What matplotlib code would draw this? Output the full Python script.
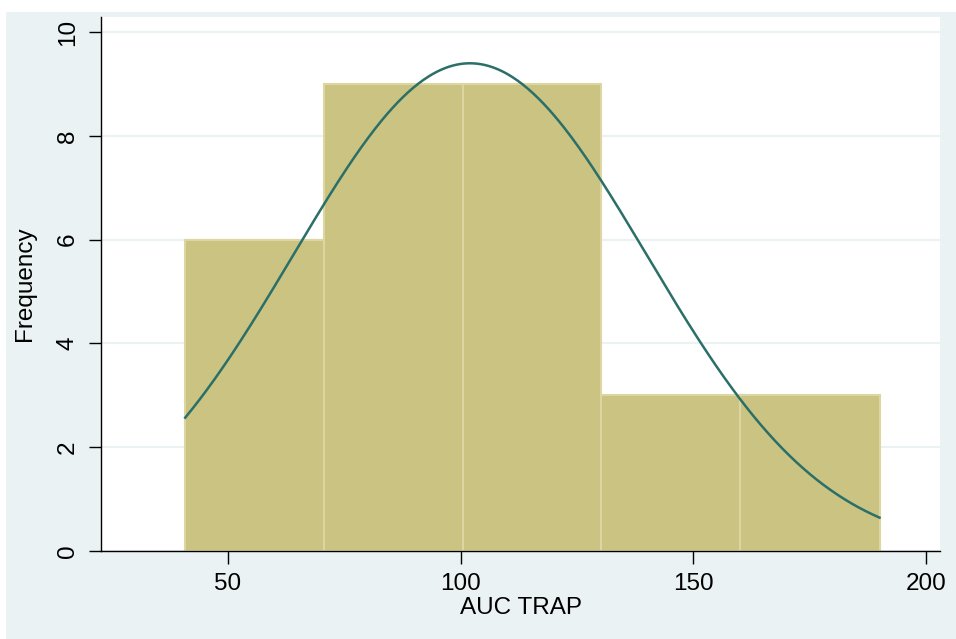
import numpy as np
import matplotlib
matplotlib.use("Agg")
import matplotlib.pyplot as plt
from matplotlib.patches import Rectangle

plt.rcParams['font.family'] = ['Liberation Sans', 'DejaVu Sans']

# histogram bins (AUC TRAP) and counts
bin_edges = [40.8, 70.6, 100.4, 130.2, 160.1, 190.0]
counts = [6, 9, 9, 3, 3]
# fitted normal curve parameters
mu = 102.0
sigma = 38.0

x_ticks = [50, 100, 150, 200]
y_ticks = [0, 2, 4, 6, 8, 10]

panel_bg = "#eaf2f3"
bar_color = "#cbc381"
bar_edge = "#ddd6a2"
curve_color = "#2b6f69"

fig = plt.figure(figsize=(9.56, 6.39), dpi=100, facecolor="white")
fig.add_artist(Rectangle((6 / 956, 0), 1, 1 - 12 / 639, transform=fig.transFigure,
                         facecolor=panel_bg, edgecolor="none", zorder=-10))

ax = fig.add_axes([101 / 956, 1 - 551 / 639, (940 - 101) / 956, (551 - 17) / 639])
ax.set_facecolor("white")

widths = np.diff(bin_edges)
ax.bar(bin_edges[:-1], counts, width=widths, align="edge", color=bar_color,
       edgecolor=bar_edge, linewidth=1.5, zorder=2)

n = sum(counts)
bw = float(np.mean(widths))
xs = np.linspace(bin_edges[0], bin_edges[-1], 400)
ys = n * bw * np.exp(-0.5 * ((xs - mu) / sigma) ** 2) / (sigma * np.sqrt(2 * np.pi))
ax.plot(xs, ys, color=curve_color, linewidth=1.8, zorder=3)

ax.set_xlim(22.7, 203.0)
ax.set_ylim(0, 10.29)
ax.set_xticks(x_ticks)
ax.set_yticks(y_ticks)
ax.set_yticklabels([str(v) for v in y_ticks], rotation=90, va="center")
ax.yaxis.grid(True, color=panel_bg, linewidth=1.5, zorder=0)
ax.set_axisbelow(True)

for s in ["top", "right"]:
    ax.spines[s].set_visible(False)
for s in ["left", "bottom"]:
    ax.spines[s].set_color("black")
    ax.spines[s].set_linewidth(1.0)
ax.tick_params(axis="both", direction="out", length=9, width=1, color="black",
               labelsize=17.5, pad=7)

ax.set_xlabel("AUC TRAP", fontsize=17.5, labelpad=1)
ax.set_ylabel("Frequency", fontsize=17.5, labelpad=15)

fig.savefig("out.png", dpi=100, facecolor=fig.get_facecolor())
